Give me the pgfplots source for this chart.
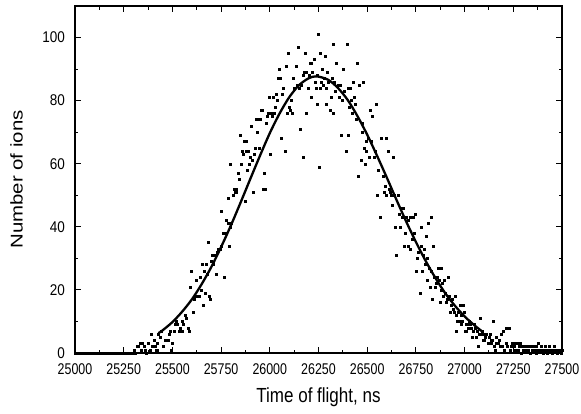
\documentclass[border=0pt]{standalone}
\usepackage{fontspec}
\setmainfont{Liberation Sans}
\usepackage{graphicx}
\usepackage{pgfplots}
\usepackage{pgfplotstable}
\pgfplotsset{compat=1.18}

\pgfplotstableread{
x y
25000 0
25010 0
25020 0
25030 0
25040 0
25050 0
25060 0
25070 0
25080 0
25090 0
25100 0
25110 0
25120 0
25130 0
25140 0
25150 0
25160 0
25170 0
25180 0
25190 0
25200 0
25210 0
25220 0
25230 0
25240 0
25250 0
25260 0
25270 0
25280 0
25290 0
25300 0
25305 1
25310 0
25318 2
25327 2
25335 3
25340 1
25347 3
25355 2
25362 1
25368 0
25377 3
25385 1
25390 6
25398 2
25405 4
25411 2
25418 1
25420 3
25424 1
25428 6
25437 5
25445 7
25452 2
25462 4
25470 4
25479 4
25485 6
25491 7
25495 1
25500 3
25510 7
25514 9
25521 10
25527 9
25533 7
25540 8
25548 10
25551 7
25558 9
25565 12
25572 11
25580 8
25585 7
25590 21
25599 26
25605 13
25612 17
25618 18
25624 23
25630 18
25636 18
25641 24
25647 20
25654 28
25658 15
25663 26
25668 19
25676 28
25681 25
25685 35
25690 18
25695 17
25700 29
25705 31
25712 28
25718 31
25724 25
25730 32
25737 33
25743 33
25750 34
25753 45
25760 38
25766 24
25772 38
25778 42
25784 41
25787 49
25790 34
25795 40
25799 60
25804 41
25810 50
25815 52
25820 51
25825 52
25830 51
25836 57
25840 57
25845 55
25848 69
25852 60
25857 64
25862 63
25867 67
25873 48
25877 64
25881 67
25885 58
25890 64
25895 60
25900 62
25906 72
25910 61
25915 51
25920 63
25925 65
25930 74
25936 70
25940 74
25945 65
25950 74
25955 77
25960 77
25967 52
25970 57
25975 52
25980 73
25985 75
25990 76
25995 81
26001 63
26005 76
26010 75
26018 81
26023 76
26028 78
26035 82
26040 80
26045 87
26049 90
26055 87
26061 68
26066 82
26070 84
26078 64
26083 91
26088 76
26095 95
26100 78
26105 77
26110 80
26116 76
26122 87
26127 84
26133 91
26140 85
26146 97
26150 84
26155 71
26160 85
26169 62
26172 88
26176 89
26181 95
26186 89
26189 76
26195 84
26200 88
26206 92
26210 81
26215 92
26220 89
26227 93
26232 86
26236 84
26241 79
26245 88
26249 101
26254 59
26258 84
26261 95
26266 86
26270 90
26275 85
26279 87
26283 94
26288 84
26292 79
26297 89
26302 86
26309 77
26314 81
26319 87
26323 76
26326 98
26332 86
26337 83
26343 92
26349 85
26357 81
26362 85
26365 69
26370 80
26377 90
26383 83
26390 64
26395 98
26400 84
26403 69
26408 78
26412 84
26416 80
26421 76
26429 86
26432 81
26437 79
26442 74
26449 92
26454 56
26459 85
26467 61
26472 73
26476 70
26480 86
26485 65
26489 60
26493 64
26497 67
26503 68
26508 62
26514 77
26520 67
26528 75
26534 62
26540 64
26548 79
26552 50
26558 58
26566 43
26574 68
26580 56
26586 51
26591 53
26595 68
26600 50
26606 64
26612 52
26618 51
26624 50
26630 47
26634 62
26640 50
26643 40
26651 31
26657 50
26663 44
26668 40
26675 46
26680 43
26686 46
26689 34
26695 38
26702 43
26708 42
26712 34
26719 43
26723 33
26730 36
26736 43
26740 38
26745 44
26751 26
26757 30
26763 32
26771 19
26775 34
26779 40
26784 26
26787 31
26792 33
26797 28
26802 37
26806 30
26810 23
26813 41
26818 27
26822 21
26827 43
26831 26
26836 17
26839 34
26844 24
26848 21
26853 22
26858 24
26865 27
26870 23
26874 16
26878 20
26882 27
26887 22
26891 18
26896 23
26900 19
26906 16
26912 17
26916 24
26920 18
26925 13
26930 15
26935 17
26940 14
26946 13
26950 18
26955 12
26958 7
26962 10
26967 13
26972 10
26976 15
26980 9
26984 12
26988 10
26993 15
26999 13
27002 7
27006 9
27010 7
27015 9
27020 8
27025 10
27030 9
27035 8
27040 5
27045 7
27050 9
27054 8
27059 5
27064 7
27071 2
27075 6
27079 11
27084 6
27088 7
27093 4
27096 6
27103 4
27108 5
27113 6
27120 3
27125 5
27130 6
27134 4
27138 3
27143 4
27147 10
27152 2
27156 1
27160 3
27164 5
27170 3
27177 4
27183 2
27189 6
27192 2
27198 7
27205 1
27211 8
27215 3
27220 2
27228 8
27232 1
27235 1
27240 2
27245 3
27250 3
27255 2
27260 1
27265 3
27270 3
27275 1
27280 2
27285 3
27290 0
27295 2
27300 1
27305 2
27310 1
27315 2
27320 2
27325 1
27330 2
27335 0
27340 2
27345 1
27350 1
27355 2
27360 1
27365 0
27370 2
27375 1
27380 3
27385 1
27390 1
27395 2
27400 1
27405 0
27410 1
27415 2
27420 1
27425 0
27430 1
27435 2
27440 1
27445 1
27450 0
27455 1
27460 2
27465 1
27470 1
27475 0
27480 1
27485 1
27490 1
27495 0
27500 1
}\ionsdata

\pgfplotstableread{
x y
25428 6.3
25450 7.2
25500 9.8
25550 13.1
25600 17.0
25650 21.8
25700 27.3
25750 33.6
25800 40.4
25850 47.7
25900 55.2
25950 62.6
26000 69.7
26050 75.9
26100 81.1
26150 84.9
26200 87.1
26240 87.7
26300 86.6
26350 84.0
26400 80.2
26450 75.1
26500 69.2
26550 62.6
26600 55.7
26650 48.6
26700 41.7
26750 35.2
26800 29.2
26850 23.8
26900 19.0
26950 15.0
27000 11.6
27050 8.8
27095 6.6
}\fitdata

\begin{document}
\begin{tikzpicture}
\useasboundingbox (-75pt,-60pt) rectangle (506pt,353pt);
\begin{axis}[
  scale only axis,
  width=487pt, height=347pt,
  xmin=25000, xmax=27500,
  ymin=0, ymax=110,
  xtick={25000,25250,...,27500},
  ytick={0,20,...,100},
  scaled x ticks=false,
  minor x tick num=1,
  minor y tick num=1,
  tick align=inside,
  xtick pos=both, ytick pos=both,
  xticklabel pos=lower, yticklabel pos=left,
  major tick length=6pt,
  minor tick length=3.5pt,
  every tick/.style={black, line width=1pt},
  axis line style={line width=1.2pt},
  tick label style={font=\fontsize{13.5}{15}\selectfont, inner sep=0pt},
  xticklabel={\scalebox{0.92}[1.15]{\pgfmathprintnumber[1000 sep={},assume math mode=true]{\tick}}},
  yticklabel={\scalebox{1}[1.15]{\pgfmathprintnumber[1000 sep={},assume math mode=true]{\tick}}},
  xticklabel style={yshift=-10pt},
  yticklabel style={xshift=-10pt},
  xlabel={\scalebox{1}[1.2]{Time of flight, ns}},
  ylabel={\scalebox{1.2}[1]{Number of ions}},
  label style={font=\fontsize{17}{19}\selectfont},
  xlabel style={at={(axis description cs:0.5,-0.127)}, anchor=center},
  ylabel style={at={(axis description cs:-0.12,0.5)}, anchor=center},
  clip=false,
]
\addplot[only marks, mark=square*, mark size=1pt, black] table[x=x,y=y] {\ionsdata};
\addplot[black, line width=2.3pt, smooth] table[x=x,y=y] {\fitdata};
\end{axis}
\end{tikzpicture}
\end{document}
